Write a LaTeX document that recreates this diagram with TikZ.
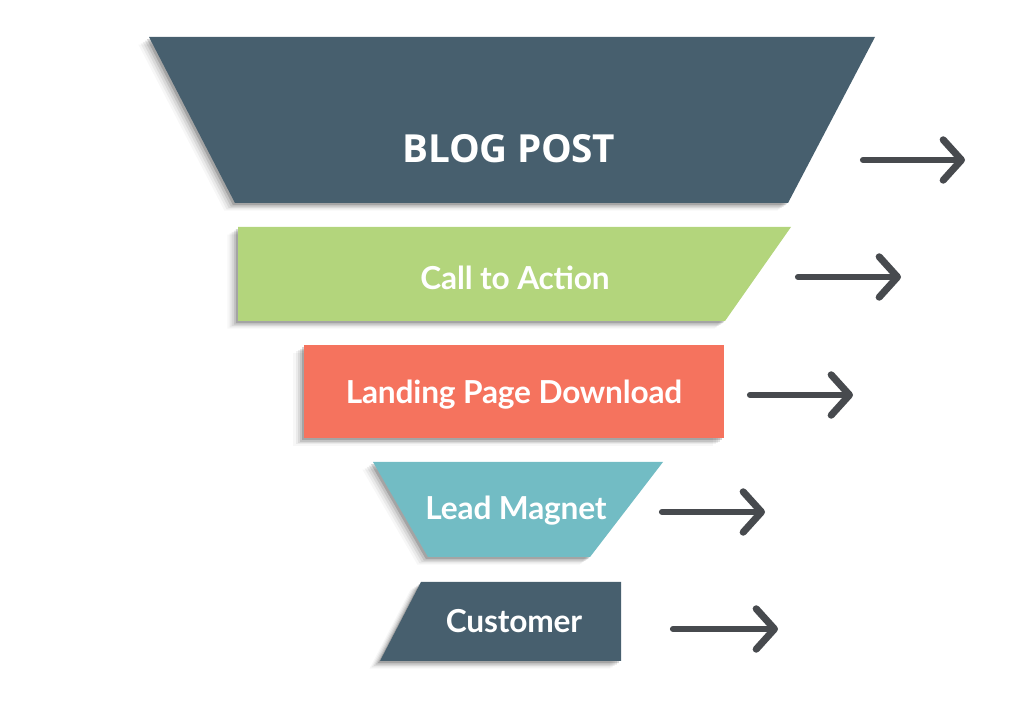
\documentclass[tikz,border=0pt]{standalone}
\usepackage{fontspec}
\setmainfont[LetterSpace=-0.6]{Lato}
\newfontfamily\blogfont[LetterSpace=-0.8]{Open Sans}
\usetikzlibrary{arrows.meta}
\definecolor{slatecol}{HTML}{475F6E}
\definecolor{greencol}{HTML}{B3D57C}
\definecolor{redcol}{HTML}{F5735E}
\definecolor{tealcol}{HTML}{72BCC4}
\definecolor{arrowcol}{HTML}{474A4E}
\tikzset{
  softshadow/.style={
    preaction={fill=black,fill opacity=.03,transform canvas={shift={(-3.0pt,-2.2pt)}}},
    preaction={fill=black,fill opacity=.05,transform canvas={shift={(-2.4pt,-1.8pt)}}},
    preaction={fill=black,fill opacity=.07,transform canvas={shift={(-1.8pt,-1.4pt)}}},
    preaction={fill=black,fill opacity=.1,transform canvas={shift={(-1.2pt,-1pt)}}},
    preaction={fill=black,fill opacity=.16,transform canvas={shift={(-.6pt,-.6pt)}}}},
  label/.style={text=white,font=\bfseries\fontsize{9}{11}\selectfont,inner sep=0pt},
  flowarrow/.style={draw=arrowcol,line width=1.75pt,line cap=round,
    -{Straight Barb[length=5.2pt,width=11.5pt,line width=2pt,round]}}
}
\begin{document}
\begin{tikzpicture}[x=0.01cm,y=-0.01cm]
  \useasboundingbox (0,0) rectangle (1024,707);
  % funnel
  \fill[slatecol,softshadow] (149,37)--(875,37)--(788,203)--(235,203)--cycle;
  \fill[greencol,softshadow] (238,227)--(791,227)--(725,321)--(238,321)--cycle;
  \fill[redcol,softshadow] (304,345)--(724,345)--(724,438)--(304,438)--cycle;
  \fill[tealcol,softshadow] (373,462)--(663,462)--(590,557)--(428,557)--cycle;
  \fill[slatecol,softshadow] (421,582)--(621,582)--(621,661)--(380,661)--cycle;
  % labels
  \node[label,font=\blogfont\bfseries\fontsize{11}{13}\selectfont] (blog) at (509,149) {BLOG POST};
  \node[label] (call) at (515,278) {Call to Action};
  \node[label] (landing) at (514,395) {Landing Page Download};
  \node[label] (lead) at (516,511) {Lead Magnet};
  \node[label] (customer) at (514,621) {Customer};
  % arrows
  \coordinate (a1) at (863,160);
  \coordinate (b1) at (965,160);
  \coordinate (a2) at (798,277);
  \coordinate (b2) at (901,277);
  \coordinate (a3) at (750,395);
  \coordinate (b3) at (853,395);
  \coordinate (a4) at (662,512);
  \coordinate (b4) at (765,512);
  \coordinate (a5) at (673,629);
  \coordinate (b5) at (778,629);
  \draw[flowarrow](a1)--(b1);
  \draw[flowarrow](a2)--(b2);
  \draw[flowarrow](a3)--(b3);
  \draw[flowarrow](a4)--(b4);
  \draw[flowarrow](a5)--(b5);
\end{tikzpicture}
\end{document}
